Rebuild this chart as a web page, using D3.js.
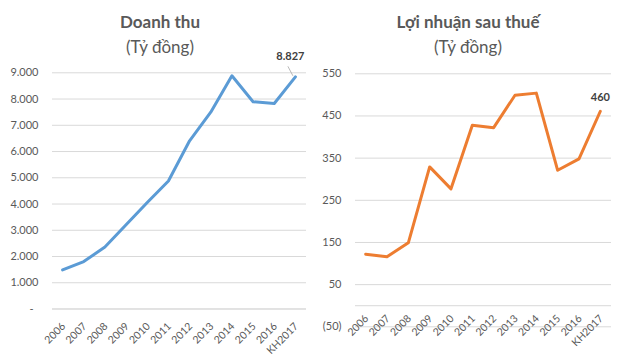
<!DOCTYPE html>
<html>
<head>
<meta charset="utf-8">
<script src="https://cdn.jsdelivr.net/npm/d3@7"></script>
<style>
  body { margin: 0; background: #fff; }
  svg { font-family: Lato, "Open Sans", sans-serif; }
</style>
</head>
<body>
<script>
// Data
const categories = ["2006", "2007", "2008", "2009", "2010", "2011", "2012", "2013", "2014", "2015", "2016", "KH2017"];
const revenue = [1470, 1790, 2340, 3190, 4040, 4860, 6390, 7480, 8870, 7880, 7810, 8827];
const profit = [121, 115, 148, 328, 276, 427, 421, 498, 503, 320, 347, 460];
const revenueTicks = [0, 1000, 2000, 3000, 4000, 5000, 6000, 7000, 8000, 9000];
const profitTicks = [-50, 50, 150, 250, 350, 450, 550];

const W = 625, H = 363;
const textColor = "#595959";
const gridColor = "#d9d9d9";

const vn = d3.formatLocale({ decimal: ",", thousands: ".", grouping: [3], currency: ["", ""] });
const fmtThousands = vn.format(",.0f");

const svg = d3.select("body").append("svg")
    .attr("width", W)
    .attr("height", H);

function drawChart(opts) {
    const g = svg.append("g");

    const x = d3.scalePoint()
        .domain(categories)
        .range(opts.xRange)
        .padding(0.5);

    const y = d3.scaleLinear()
        .domain(opts.yDomain)
        .range(opts.yRange);

    // Titles
    g.append("text")
        .attr("x", opts.titleX)
        .attr("y", 28)
        .attr("text-anchor", "middle")
        .attr("font-size", 17)
        .attr("font-weight", "bold")
        .attr("fill", textColor)
        .text(opts.title);

    g.append("text")
        .attr("x", opts.titleX)
        .attr("y", 53)
        .attr("text-anchor", "middle")
        .attr("font-size", 17)
        .attr("fill", textColor)
        .text("(Tỷ đồng)");

    // Y axis with gridlines
    const yAxis = d3.axisLeft(y)
        .tickValues(opts.ticks)
        .tickSize(-(opts.xRange[1] - opts.xRange[0]))
        .tickPadding(13.5)
        .tickFormat(opts.fmt);

    const ya = g.append("g")
        .attr("transform", `translate(${opts.xRange[0]},0)`)
        .call(yAxis);
    ya.select(".domain").remove();
    ya.selectAll(".tick line").attr("stroke", gridColor);
    ya.selectAll(".tick text")
        .attr("fill", textColor)
        .attr("font-size", 11)
        .attr("font-family", "Lato, sans-serif");

    // X axis at zero
    const xAxis = d3.axisBottom(x).tickSize(0).tickSizeOuter(0);
    const xa = g.append("g")
        .attr("transform", `translate(0,${y(0)})`)
        .call(xAxis);
    xa.select(".domain")
        .attr("d", `M${opts.xRange[0]},0.5H${opts.xRange[1]}`)
        .attr("stroke", gridColor);
    xa.selectAll(".tick text")
        .attr("x", 0)
        .attr("y", 0)
        .attr("dy", null)
        .attr("text-anchor", "end")
        .attr("transform", `translate(3,${opts.labelOffset}) rotate(-45)`)
        .attr("fill", textColor)
        .attr("font-size", 10.5)
        .attr("font-family", "Lato, sans-serif");

    // Line
    const line = d3.line()
        .x((d, i) => x(categories[i]))
        .y(d => y(d));

    g.append("path")
        .datum(opts.values)
        .attr("fill", "none")
        .attr("stroke", opts.color)
        .attr("stroke-width", 3)
        .attr("stroke-linejoin", "round")
        .attr("stroke-linecap", "round")
        .attr("d", line);

    // Data label on last point
    const last = opts.values.length - 1;
    const px = x(categories[last]);
    const py = y(opts.values[last]);

    if (opts.leader) {
        g.append("line")
            .attr("x1", px - 2.5)
            .attr("y1", py - 1)
            .attr("x2", px - 7.5)
            .attr("y2", py - 10.5)
            .attr("stroke", "#a6a6a6")
            .attr("stroke-width", 0.8);
    }

    g.append("text")
        .attr("x", px + opts.labelDx)
        .attr("y", py + opts.labelDy)
        .attr("text-anchor", "middle")
        .attr("font-size", 11)
        .attr("font-weight", "bold")
        .attr("fill", "#404040")
        .text(opts.labelFmt(opts.values[last]));
}

// Doanh thu
drawChart({
    title: "Doanh thu",
    titleX: 160,
    values: revenue,
    ticks: revenueTicks,
    yDomain: [0, 9000],
    yRange: [308.5, 72.3],
    xRange: [52, 306],
    color: "#5b9bd5",
    fmt: d => d === 0 ? "-" : fmtThousands(d),
    labelFmt: d => fmtThousands(d),
    labelOffset: 18.5,
    labelDx: -5,
    labelDy: -16.5,
    leader: true
});

// Lợi nhuận sau thuế
drawChart({
    title: "Lợi nhuận sau thuế",
    titleX: 468,
    values: profit,
    ticks: profitTicks,
    yDomain: [-50, 550],
    yRange: [326.3, 73.3],
    xRange: [355, 611],
    color: "#ed7d31",
    fmt: d => d < 0 ? `(${-d})` : String(d),
    labelFmt: d => String(d),
    labelOffset: 14,
    labelDx: 0,
    labelDy: -10.5,
    leader: false
});

// accounting-style dash for zero sits a bit left of the number column
svg.selectAll("g.tick text").filter(function () { return this.textContent === "-"; })
    .attr("dx", "-5");
</script>
</body>
</html>
